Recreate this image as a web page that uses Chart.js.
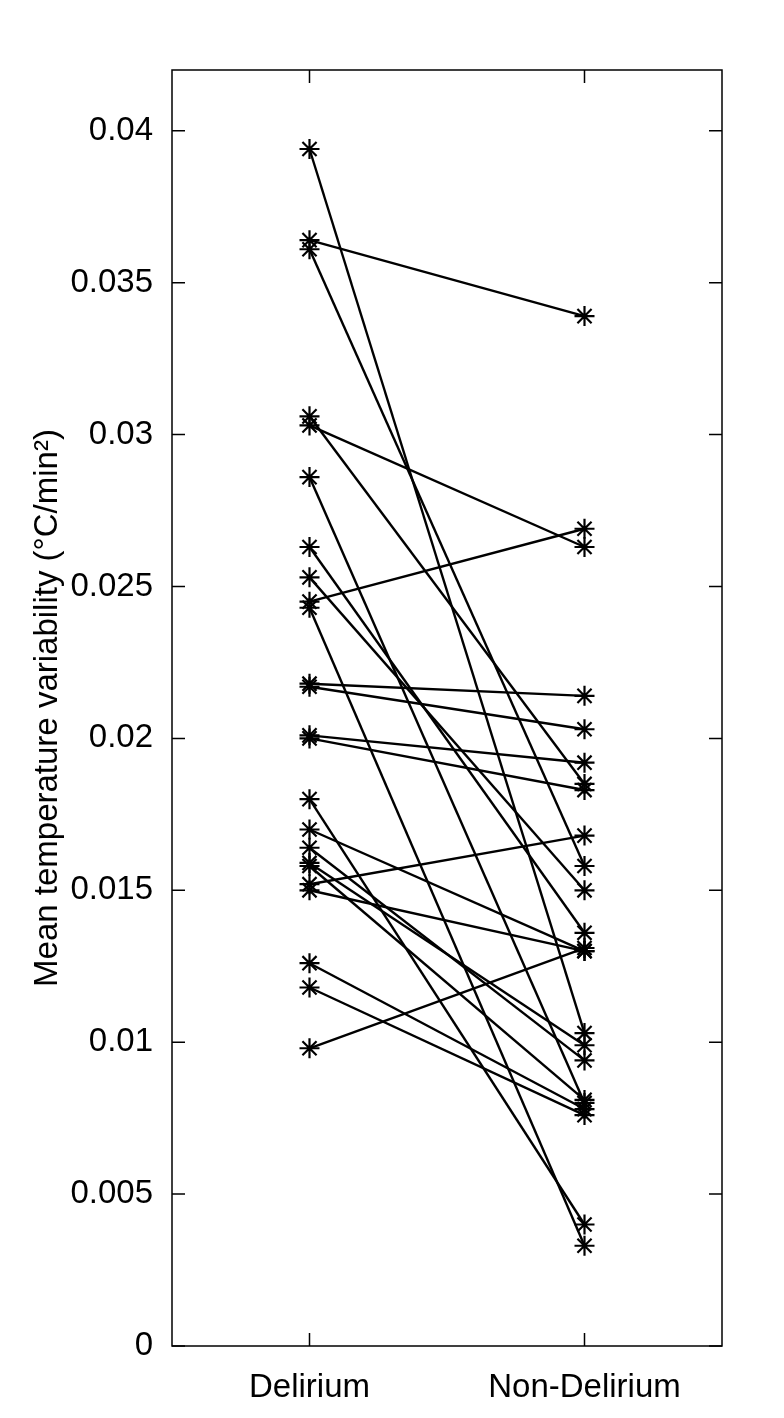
<!DOCTYPE html>
<html>
<head>
<meta charset="utf-8">
<script src="https://cdn.jsdelivr.net/npm/chart.js@4.4.0/dist/chart.umd.min.js"></script>
<style>
  html, body { margin: 0; padding: 0; background: #fff; }
  #wrap { width: 784px; height: 1418px; }
</style>
</head>
<body>
<div id="wrap"><canvas id="pairChart" width="784" height="1418"></canvas></div>
<script>
const groups = ['Delirium', 'Non-Delirium'];
// one entry per patient, same order in both arrays
const delirium = [0.0394, 0.0364, 0.0361, 0.0306, 0.0303, 0.0286, 0.0263, 0.0253, 0.0245, 0.0243,
                  0.0218, 0.0217, 0.0201, 0.0200, 0.0180, 0.0170, 0.0164, 0.0159, 0.0158, 0.0152,
                  0.0150, 0.0126, 0.0118, 0.0098];
const nonDelirium = [0.0103, 0.0339, 0.0158, 0.0185, 0.0263, 0.0080, 0.0136, 0.0150, 0.0269, 0.0033,
                     0.0214, 0.0203, 0.0192, 0.0183, 0.0040, 0.0130, 0.0094, 0.0099, 0.0081, 0.0168,
                     0.0130, 0.0078, 0.0076, 0.0131];
const yTicks = [0, 0.005, 0.01, 0.015, 0.02, 0.025, 0.03, 0.035, 0.04];
const xTicks = [1, 2];
const yTitle = 'Mean temperature variability (°C/min²)';

const font = { family: 'Arial, "Liberation Sans", sans-serif', size: 33 };

const datasets = delirium.map((v, i) => ({
  data: [{ x: 1, y: v }, { x: 2, y: nonDelirium[i] }],
  showLine: true,
  borderColor: '#000',
  borderWidth: 2.4,
  pointStyle: 'star',
  pointRadius: 10,
  pointBorderWidth: 2.2,
  pointBorderColor: '#000',
  pointBackgroundColor: 'transparent'
}));

// box around the plot with ticks pointing inwards, as in the original figure
const boxTicks = {
  id: 'boxTicks',
  beforeDatasetsDraw(chart) {
    const { ctx, chartArea: a, scales: { x, y } } = chart;
    const len = 13;
    ctx.save();
    ctx.strokeStyle = '#000';
    ctx.lineWidth = 1.5;
    ctx.strokeRect(a.left, a.top, a.right - a.left, a.bottom - a.top);
    ctx.beginPath();
    yTicks.forEach(v => {
      const py = y.getPixelForValue(v);
      ctx.moveTo(a.left, py); ctx.lineTo(a.left + len, py);
      ctx.moveTo(a.right, py); ctx.lineTo(a.right - len, py);
    });
    xTicks.forEach(v => {
      const px = x.getPixelForValue(v);
      ctx.moveTo(px, a.bottom); ctx.lineTo(px, a.bottom - len);
      ctx.moveTo(px, a.top); ctx.lineTo(px, a.top + len);
    });
    ctx.stroke();
    ctx.restore();
  }
};

new Chart(document.getElementById('pairChart'), {
  type: 'scatter',
  data: { datasets },
  options: {
    responsive: false,
    animation: false,
    layout: { padding: { top: 70, right: 62, left: 0, bottom: 0 } },
    plugins: { legend: { display: false }, tooltip: { enabled: false } },
    scales: {
      x: {
        type: 'linear',
        min: 0.5,
        max: 2.5,
        grid: { display: false },
        border: { display: false },
        afterBuildTicks: s => { s.ticks = xTicks.map(v => ({ value: v })); },
        afterFit: s => { s.height = 72; },
        ticks: {
          font, color: '#000', padding: 14, maxRotation: 0,
          callback: v => groups[v - 1]
        }
      },
      y: {
        type: 'linear',
        min: 0,
        max: 0.042,
        grid: { display: false },
        border: { display: false },
        afterBuildTicks: s => { s.ticks = yTicks.map(v => ({ value: v })); },
        afterFit: s => { s.width = 172; },
        ticks: {
          font, color: '#000', padding: 11,
          callback: v => String(Number(v.toFixed(3)))
        },
        title: {
          display: true,
          text: yTitle,
          font, color: '#000',
          padding: { top: 28, bottom: 0 }
        }
      }
    }
  },
  plugins: [boxTicks]
});
</script>
</body>
</html>
